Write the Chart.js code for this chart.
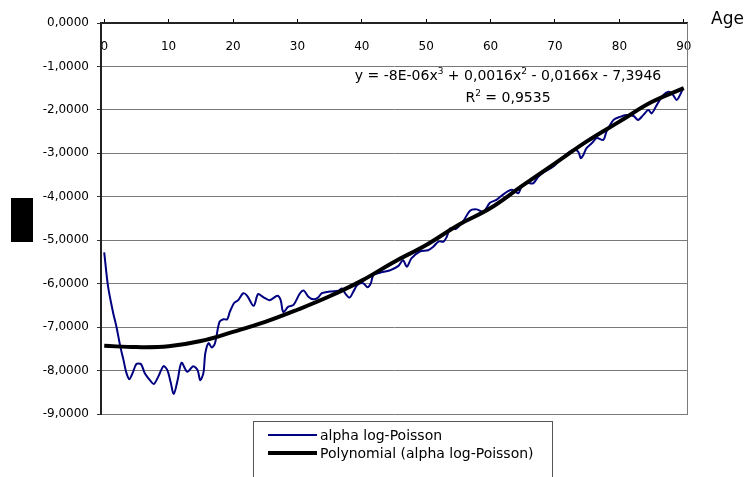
<!DOCTYPE html>
<html>
<head>
<meta charset="utf-8">
<script src="https://cdn.jsdelivr.net/npm/chart.js@4.4.0/dist/chart.umd.min.js"></script>
<style>
  html, body { margin: 0; padding: 0; background: #fff; overflow: hidden; }
  #wrap { position: relative; width: 749px; height: 477px; overflow: hidden; }
  #chart { position: absolute; left: 0; top: 0; }
  #legend {
    position: absolute; left: 253px; top: 421px; width: 300px; height: 80px;
    border: 1px solid #555; box-sizing: border-box;
    font-family: "DejaVu Sans"; font-size: 14px; color: #000;
  }
  #legend .item { position: absolute; left: 14px; height: 18px; display: flex; align-items: center; white-space: nowrap; }
  #legend .sample { width: 49px; margin-right: 3px; }
</style>
</head>
<body>
<div id="wrap">
  <canvas id="chart" width="749" height="477"></canvas>
  <div id="legend"></div>
</div>
<script>
// age axis
const xTicks = [0, 10, 20, 30, 40, 50, 60, 70, 80, 90];

// alpha log-Poisson
const ages = [
  0.0, 0.6, 1.4, 1.9, 2.5, 3.0, 3.4, 3.9, 4.4, 5.0, 5.7, 6.3, 7.1, 7.7, 8.4, 9.2, 9.8,
  10.3, 10.8, 11.4, 12.0, 12.9, 13.8, 14.5, 14.9, 15.4, 15.7, 16.2, 16.7, 17.2, 17.9,
  18.5, 19.1, 19.5, 20.2, 20.8, 21.6, 22.2, 23.2, 23.9, 24.7, 25.7, 26.9, 27.4, 27.8,
  28.6, 29.4, 30.4, 31.0, 31.7, 32.5, 33.2, 33.8, 35.1, 36.4, 36.9, 37.4, 38.1, 38.7,
  39.3, 40.2, 40.9, 41.4, 41.8, 42.8, 44.4, 45.7, 46.4, 47.0, 47.7, 49.0, 50.3, 51.1,
  51.9, 52.7, 53.2, 53.7, 54.6, 55.8, 56.8, 57.8, 58.9, 59.9, 60.9, 62.2, 63.3, 64.3,
  64.8, 65.6, 66.6, 67.4, 68.4, 69.7, 71.3, 72.8, 73.6, 74.0, 74.4, 74.9, 75.7, 76.5,
  77.5, 78.0, 79.1, 80.1, 81.1, 82.2, 82.9, 83.7, 84.5, 85.0, 85.8, 86.8, 87.6, 88.2,
  88.9, 89.4, 89.9
];
const alphaValues = [
  -5.28, -6.07, -6.68, -6.99, -7.45, -7.76, -8.03, -8.20, -8.06, -7.85, -7.85, -8.06, -8.22, -8.31, -8.14, -7.90, -7.99,
  -8.26, -8.54, -8.22, -7.82, -8.03, -7.90, -7.99, -8.22, -8.06, -7.60, -7.37, -7.47, -7.37, -6.88,
  -6.82, -6.82, -6.65, -6.44, -6.38, -6.22, -6.28, -6.51, -6.24, -6.31, -6.38, -6.28, -6.38, -6.65,
  -6.53, -6.49, -6.22, -6.16, -6.30, -6.36, -6.32, -6.22, -6.18, -6.16, -6.11, -6.22, -6.32, -6.18,
  -6.03, -5.99, -6.08, -5.99, -5.80, -5.75, -5.69, -5.59, -5.46, -5.61, -5.42, -5.26, -5.23, -5.15,
  -5.03, -5.03, -4.92, -4.73, -4.74, -4.55, -4.32, -4.29, -4.34, -4.14, -4.07, -3.92, -3.84, -3.92,
  -3.77, -3.68, -3.69, -3.54, -3.42, -3.31, -3.08, -2.92, -2.96, -3.11, -3.04, -2.88, -2.77, -2.65,
  -2.69, -2.50, -2.23, -2.16, -2.12, -2.14, -2.23, -2.12, -2.00, -2.08, -1.89, -1.66, -1.58, -1.63,
  -1.77, -1.66, -1.50
];

// polynomial trendline
const trendAges = [0, 5, 10, 15, 20, 25, 30, 35, 40, 45, 50, 55, 60, 65, 70, 75, 80, 85, 90];
const trendValues = [-7.43, -7.46, -7.44, -7.32, -7.11, -6.88, -6.60, -6.29, -5.93, -5.50,
  -5.11, -4.65, -4.26, -3.74, -3.23, -2.72, -2.27, -1.82, -1.50];

const seriesNames = ["alpha log-Poisson", "Polynomial (alpha log-Poisson)"];
const equationParts = [["y = -8E-06x"], ["3", 1], [" + 0,0016x"], ["2", 1], [" - 0,0166x - 7,3946"]];
const r2Parts = [["R"], ["2", 1], [" = 0,9535"]];

Chart.defaults.font.family = "DejaVu Sans";
Chart.defaults.color = "#000";

function drawRich(c, parts, cx, y) {
  const big = '14px "DejaVu Sans"', small = '9px "DejaVu Sans"';
  let w = 0;
  parts.forEach(p => { c.font = p[1] ? small : big; w += c.measureText(p[0]).width; });
  let x = cx - w / 2;
  parts.forEach(p => {
    c.font = p[1] ? small : big;
    c.fillText(p[0], x, p[1] ? y - 6 : y);
    x += c.measureText(p[0]).width;
  });
}

const notes = {
  id: "notes",
  afterDraw(chart) {
    const c = chart.ctx;
    c.save();
    c.fillStyle = "#000";
    c.textAlign = "left";
    c.textBaseline = "alphabetic";
    drawRich(c, equationParts, 508, 80);
    drawRich(c, r2Parts, 508, 102);
    c.font = '17px "DejaVu Sans"';
    c.fillText("Age", 711, 24);
    c.fillRect(11, 198, 22, 44);
    c.restore();
  }
};

const htmlLegend = {
  id: "htmlLegend",
  afterUpdate(chart) {
    const box = document.getElementById("legend");
    box.innerHTML = "";
    chart.data.datasets.forEach((ds, i) => {
      const item = document.createElement("div");
      item.className = "item";
      item.style.top = (4 + i * 18) + "px";
      const line = document.createElement("span");
      line.className = "sample";
      line.style.borderTop = ds.borderWidth + "px solid " + ds.borderColor;
      const txt = document.createElement("span");
      txt.textContent = ds.label;
      item.appendChild(line);
      item.appendChild(txt);
      box.appendChild(item);
    });
  }
};

new Chart(document.getElementById("chart"), {
  type: "line",
  data: {
    datasets: [
      {
        label: seriesNames[0],
        data: ages.map((a, i) => ({ x: a, y: alphaValues[i] })),
        borderColor: "#000080",
        borderWidth: 2,
        pointRadius: 0,
        tension: 0.3,
        order: 1
      },
      {
        label: seriesNames[1],
        data: trendAges.map((a, i) => ({ x: a, y: trendValues[i] })),
        borderColor: "#000",
        borderWidth: 4,
        pointRadius: 0,
        tension: 0.4,
        order: 0
      }
    ]
  },
  options: {
    responsive: false,
    animation: false,
    devicePixelRatio: 1,
    layout: { padding: { left: 41, top: 19, right: 62, bottom: 63 } },
    plugins: { legend: { display: false }, tooltip: { enabled: false } },
    scales: {
      x: {
        type: "linear",
        position: "top",
        min: -0.5,
        max: 90.5,
        afterBuildTicks: s => { s.ticks = xTicks.map(v => ({ value: v })); },
        afterFit: s => { s.height = 4; },
        // labels sit inside the plot, under the top axis line
        ticks: { font: { size: 12 }, color: "#000", mirror: true, padding: 17, maxRotation: 0, autoSkip: false },
        grid: { drawOnChartArea: false, tickLength: 4, color: "#000" },
        border: { color: "#222", width: 2 }
      },
      y: {
        min: -9,
        max: 0,
        afterFit: s => { s.width = 60; },
        ticks: {
          stepSize: 1,
          font: { size: 12 },
          color: "#000",
          padding: 8,
          callback: v => v.toFixed(4).replace(".", ",")
        },
        grid: { color: "#7a7a7a", tickColor: "#333", tickLength: 4 },
        border: { color: "#222", width: 2 }
      },
      y2: {
        position: "right",
        afterFit: s => { s.width = 0; },
        ticks: { display: false },
        grid: { drawOnChartArea: false, drawTicks: false },
        border: { color: "#7a7a7a", width: 1 }
      }
    }
  },
  plugins: [notes, htmlLegend]
});
</script>
</body>
</html>
